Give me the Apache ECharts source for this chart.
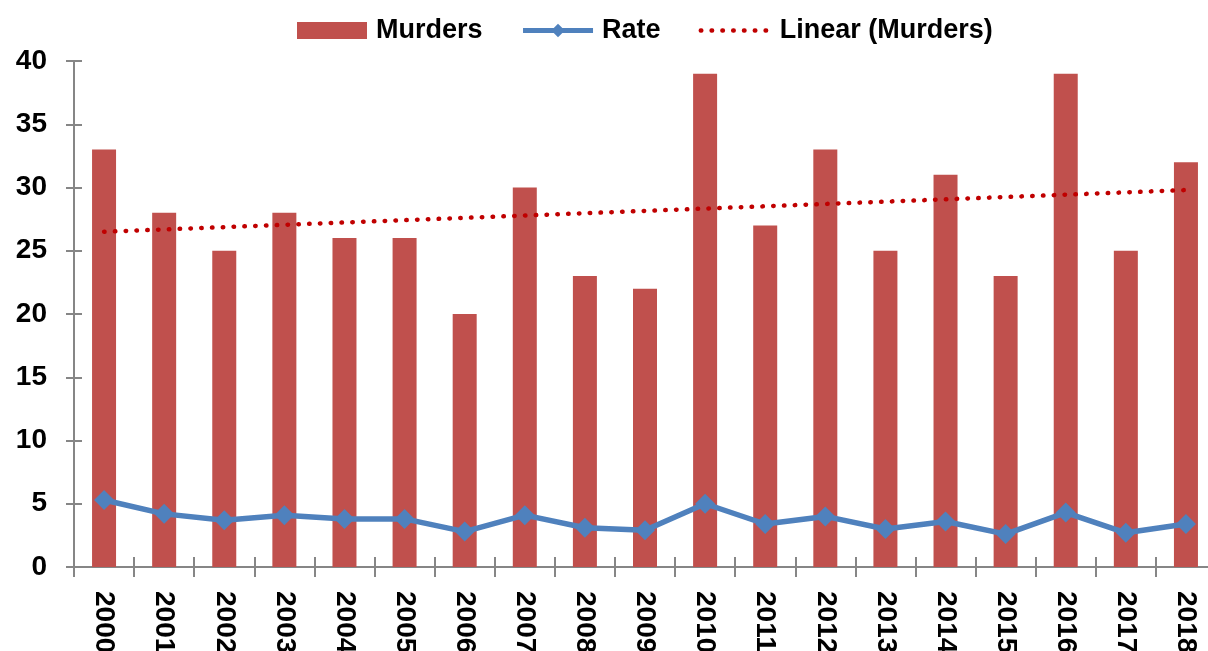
<!DOCTYPE html>
<html>
<head>
<meta charset="utf-8">
<script src="https://cdn.jsdelivr.net/npm/echarts@6/dist/echarts.min.js"></script>
<style>
  html, body { margin: 0; padding: 0; background: #fff; }
  #chart { width: 1208px; height: 651px; }
</style>
</head>
<body>
<div id="chart"></div>
<script>
const years = ['2000', '2001', '2002', '2003', '2004', '2005', '2006', '2007', '2008', '2009',
    '2010', '2011', '2012', '2013', '2014', '2015', '2016', '2017', '2018'];
const murders = [33, 28, 25, 28, 26, 26, 20, 30, 23, 22, 39, 27, 33, 25, 31, 23, 39, 25, 32];
const rate = [5.3, 4.2, 3.7, 4.1, 3.8, 3.8, 2.8, 4.1, 3.1, 2.9, 5.0, 3.4, 4.0, 3.0, 3.6, 2.6, 4.3, 2.7, 3.4];
// trendline: start (2000) and end (2018) only
const linear = [26.5, null, null, null, null, null, null, null, null, null,
    null, null, null, null, null, null, null, null, 29.8];

const FONT = "'Liberation Sans', Arial, sans-serif";
const AXIS_GREY = '#868686';

const chart = echarts.init(document.getElementById('chart'));

// ticks cross the axis line in the original: axis 0 carries line + labels,
// axis 1 only carries long ticks, shifted inward by half their length
const baseX = {
    type: 'category',
    data: years,
    position: 'bottom',
    boundaryGap: true,
    splitLine: { show: false }
};
const baseY = {
    type: 'value',
    position: 'left',
    min: 0,
    max: 40,
    interval: 5,
    splitLine: { show: false }
};
const tickOnly = {
    axisLine: { show: false },
    axisLabel: { show: false },
    axisTick: { show: true, inside: false, length: 18, lineStyle: { color: AXIS_GREY, width: 2 } },
    offset: -9
};

const option = {
    animation: false,
    backgroundColor: '#fff',
    textStyle: { fontFamily: FONT },
    legend: {
        top: 12,
        left: 292,
        itemWidth: 70,
        itemHeight: 17,
        itemGap: 38,
        textStyle: {
            fontFamily: FONT,
            fontWeight: 'bold',
            fontSize: 27,
            color: '#000',
            padding: [0, 0, 0, 4]
        },
        data: [
            { name: 'Murders', icon: 'rect' },
            { name: 'Rate', lineStyle: { width: 5 } },
            { name: 'Linear (Murders)', itemStyle: { opacity: 0 }, lineStyle: { width: 4.5 } }
        ]
    },
    grid: {
        left: 74,
        top: 61,
        width: 1142,
        bottom: 84,
        outerBoundsMode: 'none'
    },
    xAxis: [
        Object.assign({}, baseX, {
            axisLine: { show: true, lineStyle: { color: AXIS_GREY, width: 2 } },
            axisTick: { show: false },
            axisLabel: {
                rotate: -90,
                margin: 24,
                fontFamily: FONT,
                fontWeight: 'bold',
                fontSize: 28,
                color: '#000'
            }
        }),
        Object.assign({}, baseX, tickOnly, { offset: -10, axisTick: Object.assign({}, tickOnly.axisTick, { length: 20 }) })
    ],
    yAxis: [
        Object.assign({}, baseY, {
            axisLine: { show: true, lineStyle: { color: AXIS_GREY, width: 2 } },
            axisTick: { show: false },
            axisLabel: {
                margin: 27,
                fontFamily: FONT,
                fontWeight: 'bold',
                fontSize: 28,
                color: '#000'
            }
        }),
        Object.assign({}, baseY, tickOnly, { offset: -8, axisTick: Object.assign({}, tickOnly.axisTick, { length: 16 }) })
    ],
    series: [
        {
            name: 'Murders',
            type: 'bar',
            data: murders,
            barWidth: 24,
            itemStyle: { color: '#C0504D' },
            z: 2
        },
        {
            name: 'Rate',
            type: 'line',
            data: rate,
            symbol: 'diamond',
            symbolSize: 20,
            lineStyle: { color: '#4F81BD', width: 5.5 },
            itemStyle: { color: '#4F81BD' },
            z: 4
        },
        {
            name: 'Linear (Murders)',
            type: 'line',
            data: linear,
            connectNulls: true,
            symbol: 'none',
            lineStyle: { color: '#C00000', width: 4.5, type: [0.5, 10.3], cap: 'round' },
            itemStyle: { color: '#C00000' },
            z: 3
        }
    ]
};

chart.setOption(option);
</script>
</body>
</html>
